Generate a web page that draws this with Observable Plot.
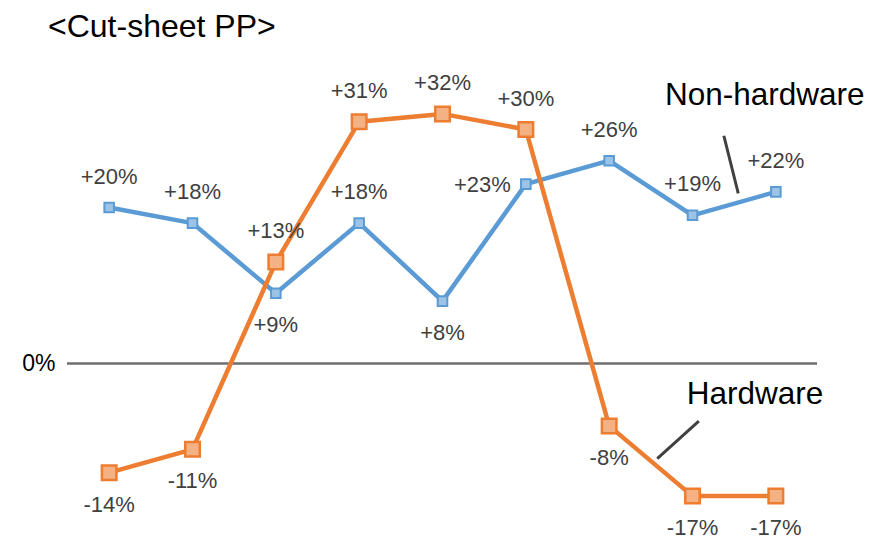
<!DOCTYPE html>
<html>
<head>
<meta charset="utf-8">
<script src="https://cdn.jsdelivr.net/npm/d3@7"></script>
<script src="https://cdn.jsdelivr.net/npm/@observablehq/plot@0.6"></script>
<style>
  body { margin: 0; background: #fff; font-family: "Liberation Sans", Arial, sans-serif; }
  #title { height: 50px; box-sizing: border-box; padding: 10px 0 0 48px; font-size: 32px; line-height: 32px; color: #000; }
</style>
</head>
<body>
<div id="title">&lt;Cut-sheet PP&gt;</div>
<div id="chart"></div>
<script>
// Period index along the x axis (nine consecutive periods)
const periods = [0, 1, 2, 3, 4, 5, 6, 7, 8];
// Year-on-year growth, in percent
const nonHardware = [20, 18, 9, 18, 8, 23, 26, 19, 22];
const hardware = [-14, -11, 13, 31, 32, 30, -8, -17, -17];
const seriesNames = ["Non-hardware", "Hardware"];

// Where each value label sits relative to its point
const nonHardwarePlace = ["above", "above", "below", "above", "below", "left", "above", "above", "above"];
const hardwarePlace = ["below", "below", "above", "above", "above", "above", "below", "below", "below"];

const blueRows = periods.map((p, i) => ({x: p, v: nonHardware[i], place: nonHardwarePlace[i]}));
const orangeRows = periods.map((p, i) => ({x: p, v: hardware[i], place: hardwarePlace[i]}));
const fmt = d => (d > 0 ? "+" : "") + d + "%";

// Series name callouts (data units) with leader lines
const callouts = [
  {name: seriesNames[0], tx: 6.67, ty: 33.1, x1: 7.376, y1: 29.2, x2: 7.549, y2: 21.8},
  {name: seriesNames[1], tx: 6.93, ty: -5.13, x1: 7.076, y1: -7.4, x2: 6.577, y2: -12.2}
];

const labelFont = 22;
const labelColor = "#404040";
function valueLabels(rows) {
  return [
    Plot.text(rows.filter(d => d.place === "above"), {x: "x", y: "v", text: d => fmt(d.v), dy: -31, fontSize: labelFont, fill: labelColor}),
    Plot.text(rows.filter(d => d.place === "below"), {x: "x", y: "v", text: d => fmt(d.v), dy: 32, fontSize: labelFont, fill: labelColor}),
    Plot.text(rows.filter(d => d.place === "left"), {x: "x", y: "v", text: d => fmt(d.v), dx: -15, dy: 1, textAnchor: "end", fontSize: labelFont, fill: labelColor})
  ];
}

const chart = Plot.plot({
  width: 883,
  height: 486,
  marginTop: 1,
  marginBottom: 17,
  marginLeft: 67,
  marginRight: 66,
  style: {fontFamily: "'Liberation Sans', Arial, sans-serif", background: "#fff", overflow: "visible"},
  x: {domain: [-0.5, 8.5], axis: null},
  y: {domain: [-20, 40], axis: null},
  marks: [
    Plot.ruleY([0], {stroke: "#6e6e6e", strokeWidth: 2.5}),
    Plot.text([0], {y: d => d, text: d => d + "%", frameAnchor: "left", textAnchor: "end", dx: -12, fontSize: 23, fill: "#000"}),
    Plot.line(blueRows, {x: "x", y: "v", stroke: "#5b9bd5", strokeWidth: 4.5, strokeLinejoin: "round"}),
    Plot.line(orangeRows, {x: "x", y: "v", stroke: "#ed7d31", strokeWidth: 4.5, strokeLinejoin: "round"}),
    Plot.dot(blueRows, {x: "x", y: "v", symbol: "square", r: 5.4, fill: "#9dc3e6", stroke: "#5b9bd5", strokeWidth: 2}),
    Plot.dot(orangeRows, {x: "x", y: "v", symbol: "square", r: 8.2, fill: "#f4b183", stroke: "#ed7d31", strokeWidth: 2.5}),
    ...valueLabels(blueRows),
    ...valueLabels(orangeRows),
    Plot.link(callouts, {x1: "x1", y1: "y1", x2: "x2", y2: "y2", stroke: "#404040", strokeWidth: 3}),
    Plot.text(callouts, {x: "tx", y: "ty", text: "name", textAnchor: "start", lineAnchor: "bottom", fontSize: 31.5, fill: "#000"})
  ]
});
document.getElementById("chart").appendChild(chart);
</script>
</body>
</html>
